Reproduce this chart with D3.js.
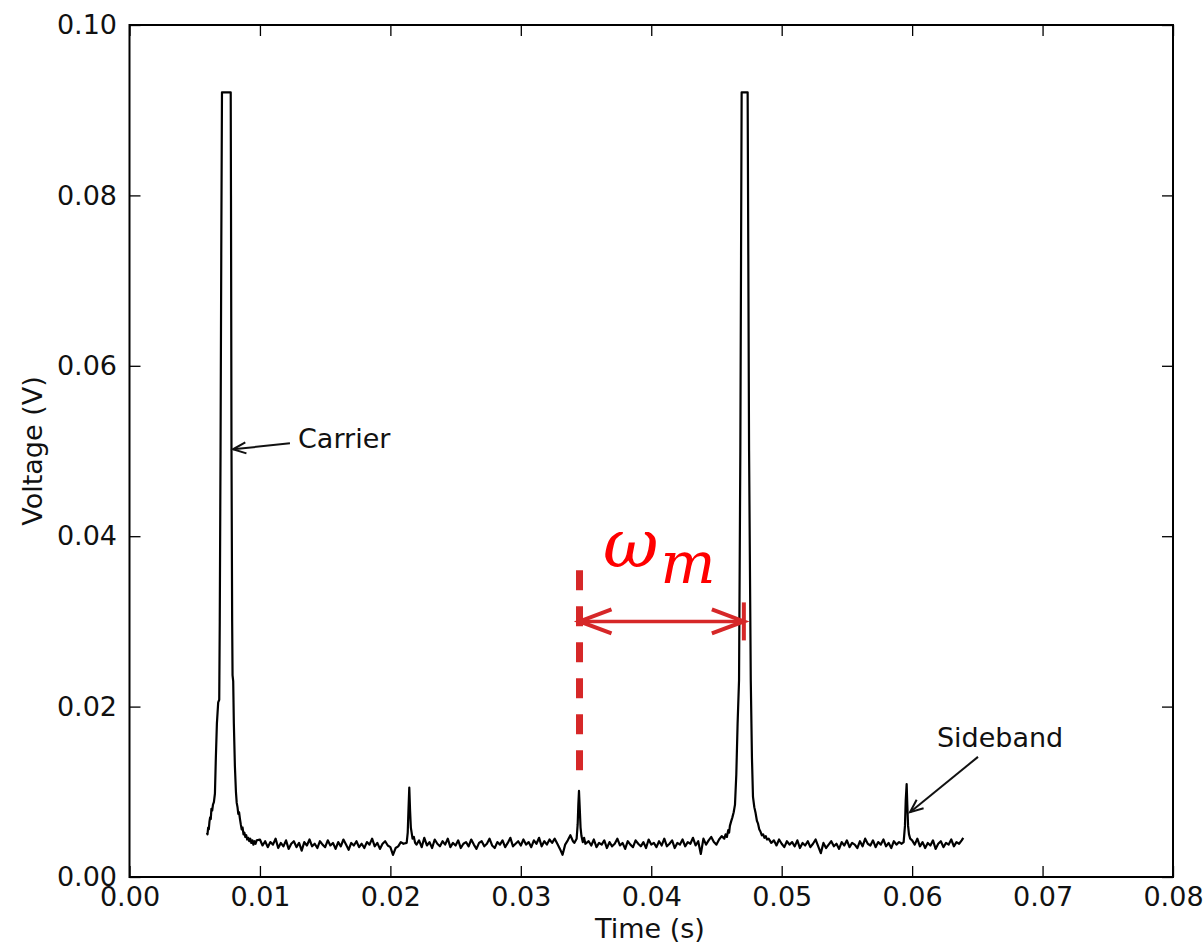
<!DOCTYPE html>
<html>
<head>
<meta charset="utf-8">
<script src="https://cdn.jsdelivr.net/npm/d3@7"></script>
<style>
  html, body { margin: 0; padding: 0; background: #fff; }
  svg text { font-family: "DejaVu Sans", sans-serif; }
</style>
</head>
<body>
<div id="chart"></div>
<script>
// axis ticks
var xTicks = [0, 0.01, 0.02, 0.03, 0.04, 0.05, 0.06, 0.07, 0.08];
var yTicks = [0, 0.02, 0.04, 0.06, 0.08, 0.10];

// sharp parts of the trace, [time (s), voltage (V)]
var carrier1 = [
  [0.00594,0.0052],[0.00598,0.0050],[0.00603,0.0058],[0.00608,0.0056],[0.00613,0.0065],
  [0.00618,0.0070],[0.00623,0.0068],[0.00628,0.0080],[0.00634,0.0078],[0.00640,0.0085],
  [0.00647,0.0088],[0.00655,0.0098],[0.00662,0.0140],[0.00670,0.0180],[0.00680,0.0205],
  [0.00688,0.0208],[0.00692,0.0300],[0.00698,0.0500],[0.00704,0.0750],[0.00709,0.0921],
  [0.00776,0.0921],[0.00778,0.0800],[0.00782,0.0500],[0.00787,0.0300],[0.00790,0.0237],
  [0.00795,0.0230],[0.00800,0.0180],[0.00808,0.0130],[0.00816,0.0100],[0.00822,0.0087],
  [0.00828,0.0082],[0.00834,0.0074],[0.00840,0.0076],[0.00847,0.0068],[0.00853,0.0062],
  [0.00860,0.0056],[0.00867,0.0058],[0.00874,0.0050],[0.00881,0.0052],[0.00888,0.0047],
  [0.00895,0.0049],[0.00902,0.0044],[0.00910,0.0046],[0.00918,0.0042],[0.00926,0.0045],
  [0.00934,0.0040],[0.00942,0.0043],[0.00950,0.0038],[0.00958,0.0042],[0.00966,0.0039],
  [0.00975,0.0043]
];
var spike1 = [
  [0.02125,0.0040],[0.02133,0.0052],[0.02139,0.0080],[0.02145,0.0105],[0.02151,0.0078],
  [0.02157,0.0058],[0.02163,0.0052],[0.02170,0.0045],[0.02180,0.0047],[0.02190,0.0040]
];
var spike2 = [
  [0.03410,0.0040],[0.03428,0.0045],[0.03436,0.0062],[0.03441,0.0085],[0.03446,0.0101],
  [0.03452,0.0080],[0.03458,0.0058],[0.03465,0.0048],[0.03475,0.0041],[0.03485,0.0046],
  [0.03495,0.0039]
];
var carrier2 = [
  [0.04560,0.0045],[0.04570,0.0050],[0.04580,0.0047],[0.04590,0.0055],[0.04597,0.0052],
  [0.04603,0.0060],[0.04612,0.0065],[0.04622,0.0070],[0.04632,0.0076],[0.04642,0.0085],
  [0.04652,0.0120],[0.04662,0.0180],[0.04673,0.0231],[0.04683,0.0500],[0.04693,0.0921],
  [0.04739,0.0921],[0.04750,0.0500],[0.04763,0.0231],[0.04772,0.0140],[0.04780,0.0094],
  [0.04790,0.0082],[0.04800,0.0075],[0.04810,0.0066],[0.04818,0.0063],[0.04828,0.0056],
  [0.04838,0.0053],[0.04848,0.0049],[0.04858,0.0050],[0.04868,0.0046],[0.04878,0.0048],
  [0.04887,0.0044]
];
var sideband = [
  [0.05935,0.0041],[0.05945,0.0060],[0.05951,0.0090],[0.05958,0.0109],[0.05963,0.0085],
  [0.05969,0.0060],[0.05976,0.0050],[0.05985,0.0045],[0.06392,0.0046]
];

// noise floor, sampled every 0.2 ms from each start time
var sampleStep = 0.0002;
var floorStarts = [0.0100, 0.0220, 0.0352, 0.0490, 0.0600];
var floorA = [
  0.0044,0.0037,0.0042,0.0035,0.0041,0.0038,0.0045,0.0034,0.0040,0.0036,
  0.0043,0.0033,0.0039,0.0042,0.0035,0.0040,0.0031,0.0041,0.0037,0.0044,
  0.0036,0.0039,0.0034,0.0042,0.0038,0.0035,0.0043,0.0037,0.0040,0.0033,
  0.0041,0.0036,0.0044,0.0038,0.0032,0.0040,0.0037,0.0042,0.0035,0.0039,
  0.0034,0.0041,0.0038,0.0045,0.0036,0.0040,0.0033,0.0039,0.0042,0.0037,
  0.0035,0.0026,0.0034,0.0036,0.0041,0.0039
];
var floorB = [
  0.0038,0.0043,0.0035,0.0046,0.0037,0.0041,0.0034,0.0044,0.0039,0.0036,
  0.0042,0.0038,0.0045,0.0035,0.0040,0.0037,0.0043,0.0034,0.0039,0.0041,
  0.0036,0.0044,0.0038,0.0033,0.0040,0.0042,0.0036,0.0039,0.0045,0.0037,
  0.0034,0.0041,0.0038,0.0043,0.0035,0.0040,0.0046,0.0036,0.0039,0.0042,
  0.0037,0.0044,0.0038,0.0041,0.0035,0.0043,0.0039,0.0046,0.0036,0.0042,
  0.0038,0.0044,0.0040,0.0045,0.0039,0.0033,0.0026,0.0038,0.0043,0.0049,
  0.0042
];
var floorC = [
  0.0042,0.0037,0.0044,0.0035,0.0040,0.0038,0.0043,0.0034,0.0041,0.0036,
  0.0039,0.0045,0.0037,0.0040,0.0033,0.0042,0.0038,0.0035,0.0043,0.0039,
  0.0036,0.0041,0.0034,0.0044,0.0038,0.0040,0.0035,0.0042,0.0037,0.0045,
  0.0036,0.0039,0.0043,0.0034,0.0040,0.0038,0.0044,0.0036,0.0041,0.0039,
  0.0046,0.0037,0.0042,0.0027,0.0045,0.0038,0.0043,0.0047,0.0041,0.0038,
  0.0044,0.0048
];
var floorD = [
  0.0045,0.0040,0.0043,0.0037,0.0044,0.0039,0.0035,0.0042,0.0038,0.0041,
  0.0036,0.0043,0.0034,0.0040,0.0037,0.0042,0.0035,0.0039,0.0044,0.0036,
  0.0028,0.0040,0.0034,0.0038,0.0042,0.0036,0.0039,0.0033,0.0041,0.0037,
  0.0043,0.0035,0.0040,0.0038,0.0034,0.0042,0.0036,0.0045,0.0039,0.0037,
  0.0043,0.0035,0.0041,0.0038,0.0044,0.0036,0.0040,0.0034,0.0042,0.0038,
  0.0041,0.0039
];
var floorE = [
  0.0043,0.0038,0.0045,0.0036,0.0041,0.0034,0.0040,0.0037,0.0043,0.0033,
  0.0039,0.0042,0.0035,0.0040,0.0038,0.0044,0.0036,0.0041,0.0039,0.0043
];

// annotations: [label, text time, text volts, arrow tail time, tail volts, tip time, tip volts]
var notes = [
  ["Carrier", 0.01292, 0.0504, 0.01230, 0.0509, 0.00793, 0.0502],
  ["Sideband", 0.06190, 0.0153, 0.06505, 0.0141, 0.05984, 0.0076]
];
// red marker for the modulation spacing
var omegaFrom = 0.0345, omegaTo = 0.0471, omegaLevel = 0.0300;
var dashTop = 0.0360, dashBottom = 0.0116;

var width = 1203, height = 944;
var svg = d3.select("#chart").append("svg")
  .attr("width", width).attr("height", height);

var x = d3.scaleLinear().domain([0, 0.08]).range([129.5, 1173]);
var y = d3.scaleLinear().domain([0, 0.10]).range([877, 25]);

// build the trace
var trace = [];
[floorA, floorB, floorC, floorD, floorE].forEach(function (arr, k) {
  arr.forEach(function (v, i) {
    trace.push([floorStarts[k] + i * sampleStep, v]);
  });
});
trace = trace.concat(carrier1, spike1, spike2, carrier2, sideband);
trace.sort(function (a, b) { return a[0] - b[0]; });

var fs = 27;

// axes (ticks point inward, on all four sides)
var gx = svg.append("g").attr("transform", "translate(0,877)")
  .call(d3.axisBottom(x).tickValues(xTicks).tickSizeInner(-11).tickSizeOuter(0)
    .tickPadding(10).tickFormat(d3.format(".2f")));
var gy = svg.append("g").attr("transform", "translate(129.5,0)")
  .call(d3.axisLeft(y).tickValues(yTicks).tickSizeInner(-11).tickSizeOuter(0)
    .tickPadding(12.5).tickFormat(d3.format(".2f")));
var gt = svg.append("g").attr("transform", "translate(0,25)")
  .call(d3.axisTop(x).tickValues(xTicks).tickSizeInner(-11).tickSizeOuter(0).tickFormat(""));
var gr = svg.append("g").attr("transform", "translate(1173,0)")
  .call(d3.axisRight(y).tickValues(yTicks).tickSizeInner(-11).tickSizeOuter(0).tickFormat(""));

[gx, gy, gt, gr].forEach(function (g) {
  g.select(".domain").remove();
  g.selectAll(".tick line").attr("stroke", "#000").attr("stroke-width", 1.3);
  g.selectAll(".tick text").attr("fill", "#111").style("font-size", fs + "px")
    .style("font-family", "DejaVu Sans");
});

// the trace
var line = d3.line().x(function (d) { return x(d[0]); }).y(function (d) { return y(d[1]); });
svg.append("path").datum(trace)
  .attr("d", line)
  .attr("fill", "none")
  .attr("stroke", "#000")
  .attr("stroke-width", 2.2)
  .attr("stroke-linejoin", "round");

// frame
svg.append("rect")
  .attr("x", 129.5).attr("y", 25)
  .attr("width", 1173 - 129.5).attr("height", 877 - 25)
  .attr("fill", "none").attr("stroke", "#000").attr("stroke-width", 2);

// axis labels
svg.append("text").attr("x", 650).attr("y", 938)
  .attr("text-anchor", "middle").style("font-size", fs + "px").attr("fill", "#111")
  .text("Time (s)");
svg.append("text")
  .attr("transform", "translate(42,451) rotate(-90)")
  .attr("text-anchor", "middle").style("font-size", fs + "px").attr("fill", "#111")
  .text("Voltage (V)");

// open arrow head helper
function head(g, tx, ty, fx, fy, len, half, color, sw) {
  var a = Math.atan2(fy - ty, fx - tx);
  var p1 = [tx + len * Math.cos(a) - half * Math.sin(a), ty + len * Math.sin(a) + half * Math.cos(a)];
  var p2 = [tx + len * Math.cos(a) + half * Math.sin(a), ty + len * Math.sin(a) - half * Math.cos(a)];
  g.append("path")
    .attr("d", "M" + p1 + "L" + tx + "," + ty + "L" + p2)
    .attr("fill", "none").attr("stroke", color).attr("stroke-width", sw)
    .attr("stroke-linejoin", "miter");
}

// annotations
notes.forEach(function (n) {
  svg.append("text").attr("x", x(n[1])).attr("y", y(n[2]))
    .style("font-size", fs + "px").attr("fill", "#111").text(n[0]);
  svg.append("line")
    .attr("x1", x(n[3])).attr("y1", y(n[4]))
    .attr("x2", x(n[5])).attr("y2", y(n[6]))
    .attr("stroke", "#111").attr("stroke-width", 2);
  head(svg, x(n[5]), y(n[6]), x(n[3]), y(n[4]), 13, 5.5, "#111", 2);
});

// red dashed marker
var red = "#d62728";
svg.append("line")
  .attr("x1", x(omegaFrom)).attr("x2", x(omegaFrom))
  .attr("y1", y(dashTop)).attr("y2", y(dashBottom))
  .attr("stroke", red).attr("stroke-width", 7)
  .attr("stroke-dasharray", "20,16");

// double arrow
var ay = y(omegaLevel);
svg.append("line")
  .attr("x1", x(omegaFrom)).attr("x2", x(omegaTo))
  .attr("y1", ay).attr("y2", ay)
  .attr("stroke", red).attr("stroke-width", 3.5);
head(svg, x(omegaFrom), ay, x(omegaTo), ay, 32, 12, red, 4);
head(svg, x(omegaTo), ay, x(omegaFrom), ay, 32, 12, red, 4);
svg.append("line")
  .attr("x1", x(omegaTo)).attr("x2", x(omegaTo))
  .attr("y1", ay - 19).attr("y2", ay + 19)
  .attr("stroke", red).attr("stroke-width", 4);

// omega_m label
var om = svg.append("text").attr("x", 603).attr("y", 567)
  .attr("fill", "#ff0000")
  .style("font-family", "DejaVu Serif").style("font-style", "italic");
om.append("tspan").style("font-size", "68px").text("ω");
om.append("tspan").attr("dy", 16).attr("dx", 2).style("font-size", "58px").text("m");
</script>
</body>
</html>
